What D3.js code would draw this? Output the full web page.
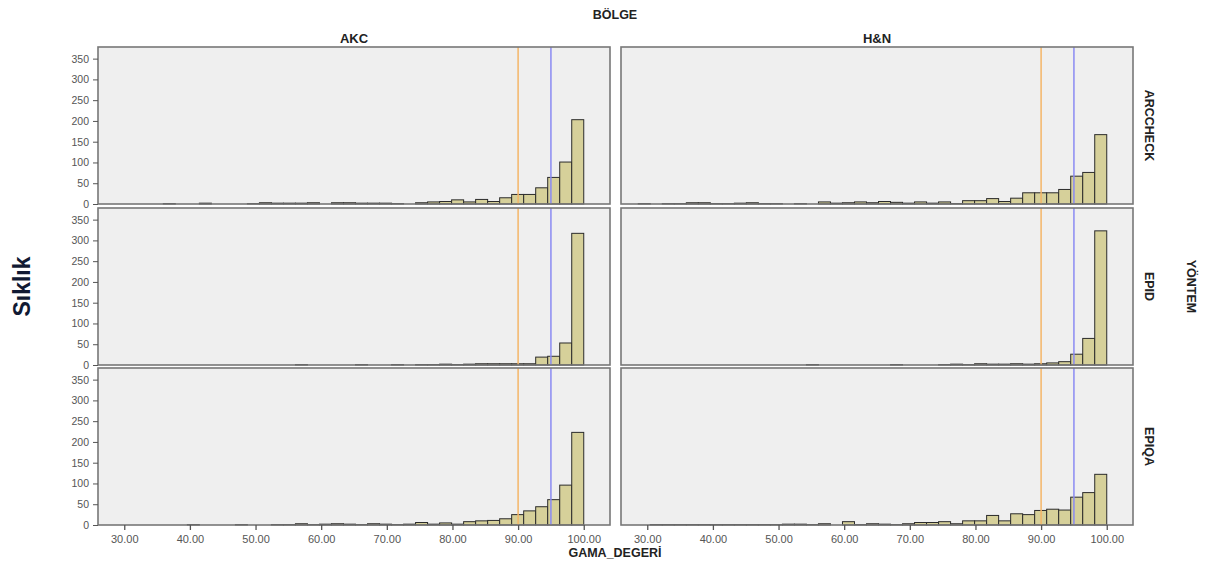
<!DOCTYPE html>
<html>
<head>
<meta charset="utf-8">
<script src="https://cdn.jsdelivr.net/npm/d3@7"></script>
<style>
  html, body { margin: 0; padding: 0; background: #ffffff; }
  svg { display: block; font-family: "Liberation Sans", Arial, sans-serif; }
</style>
</head>
<body>
<svg id="chart" width="1231" height="567"></svg>
<script>
// Facet categories
const regions = ["AKC", "H&N"];
const methods = ["ARCCHECK", "EPID", "EPIQA"];

// Histogram bins of GAMA_DEGERİ: 40 bins of equal width ending at 100
const binStart = 26.8;
const binWidth = 1.83;

// Frequencies per bin, one array per (method, region) cell
const akcArccheck = [0,0,0,0,0,1,0,0,2,0, 0,0,1,3,2,2,2,3,0,3, 3,2,2,2,1,0,3,5,6,10, 5,11,6,15,23,23,39,64,101,203];
const hnArccheck  = [0,1,0,1,1,3,3,1,1,2, 3,1,1,0,1,0,5,2,3,5, 3,6,4,2,5,2,5,1,8,8, 13,6,14,27,27,27,35,67,76,167];
const akcEpid     = [0,0,0,0,0,0,0,0,0,0, 0,0,0,0,0,0,1,0,0,0, 0,1,0,0,1,0,1,1,2,1, 2,3,3,3,3,3,19,21,53,317];
const hnEpid      = [0,0,0,0,0,0,0,0,0,0, 0,0,0,0,0,1,0,0,0,0, 0,0,1,0,0,0,1,2,1,3, 2,2,3,2,3,5,8,26,64,323];
const akcEpiqa    = [0,0,0,0,0,0,0,1,0,0, 0,1,0,0,1,1,3,1,2,3, 2,1,3,2,1,2,6,2,5,2, 8,10,11,15,25,34,44,61,96,223];
const hnEpiqa     = [0,0,1,1,1,1,1,1,1,1, 1,1,1,2,2,1,3,0,8,1, 3,2,1,3,6,6,8,3,10,10, 23,10,27,25,35,38,36,67,78,122];

// Reference lines (gamma pass thresholds)
const refLines = [90, 95];

// Axis ticks
const xTicks = [30, 40, 50, 60, 70, 80, 90, 100];
const yTicks = [0, 50, 100, 150, 200, 250, 300, 350];

const cells = [
  [akcArccheck, hnArccheck],
  [akcEpid, hnEpid],
  [akcEpiqa, hnEpiqa]
];

// Layout
const colX = [98, 621];
const panelW = 512;
const rowY = [47, 208, 368];
const panelH = 157;

const svg = d3.select("#chart");

const x = d3.scaleLinear().domain([26, 104]).range([0, panelW]);
const y = d3.scaleLinear().domain([0, 378]).range([panelH, 0]);

const refColors = ["#f5b668", "#8a8af2"];

methods.forEach((method, r) => {
  regions.forEach((region, c) => {
    const g = svg.append("g").attr("transform", `translate(${colX[c]},${rowY[r]})`);

    g.append("rect")
      .attr("width", panelW).attr("height", panelH)
      .attr("fill", "#efefef");

    const bins = cells[r][c].map((count, i) => ({
      x0: binStart + i * binWidth,
      x1: binStart + (i + 1) * binWidth,
      count
    })).filter(d => d.count > 0);

    g.selectAll("rect.bar").data(bins).join("rect")
      .attr("class", "bar")
      .attr("x", d => x(d.x0))
      .attr("width", d => x(d.x1) - x(d.x0))
      .attr("y", d => y(d.count))
      .attr("height", d => y(0) - y(d.count))
      .attr("fill", "#d6d09a")
      .attr("stroke", "#2b2b2b")
      .attr("stroke-width", 1);

    g.selectAll("line.ref").data(refLines).join("line")
      .attr("class", "ref")
      .attr("x1", d => x(d)).attr("x2", d => x(d))
      .attr("y1", 0).attr("y2", panelH)
      .attr("stroke", (d, i) => refColors[i])
      .attr("stroke-width", 1.5);

    g.append("rect")
      .attr("width", panelW).attr("height", panelH)
      .attr("fill", "none")
      .attr("stroke", "#777777")
      .attr("stroke-width", 1.6);

    if (c === 0) {
      const ay = g.append("g")
        .call(d3.axisLeft(y).tickValues(yTicks).tickSize(5).tickFormat(d3.format("d")));
      ay.select(".domain").remove();
      ay.selectAll("line").attr("stroke", "#555");
      ay.selectAll("text").attr("fill", "#555").attr("font-size", 10.5).attr("dx", "-1");
    }

    if (r === methods.length - 1) {
      const ax = g.append("g")
        .attr("transform", `translate(0,${panelH})`)
        .call(d3.axisBottom(x).tickValues(xTicks).tickSize(5).tickFormat(d3.format(".2f")));
      ax.select(".domain").remove();
      ax.selectAll("line").attr("stroke", "#555").attr("stroke-width", 1.3);
      ax.selectAll("text").attr("fill", "#555").attr("font-size", 11).attr("dy", "0.9em");
    }
  });

  // Row strip label on the right
  const cy = rowY[r] + panelH / 2;
  svg.append("text")
    .attr("transform", `translate(1145,${cy}) rotate(90)`)
    .attr("text-anchor", "middle")
    .attr("font-weight", "bold").attr("font-size", 12.5).attr("fill", "#222")
    .text(method);
});

// Column headers
regions.forEach((region, c) => {
  svg.append("text")
    .attr("x", colX[c] + panelW / 2).attr("y", 43)
    .attr("text-anchor", "middle")
    .attr("font-weight", "bold").attr("font-size", 13).attr("fill", "#222")
    .text(region);
});

// Facet variable titles
svg.append("text")
  .attr("x", 615).attr("y", 19)
  .attr("text-anchor", "middle")
  .attr("font-weight", "bold").attr("font-size", 12.5).attr("fill", "#222")
  .text("BÖLGE");

svg.append("text")
  .attr("transform", `translate(1187,${rowY[1] + panelH / 2}) rotate(90)`)
  .attr("text-anchor", "middle")
  .attr("font-weight", "bold").attr("font-size", 12.5).attr("fill", "#222")
  .text("YÖNTEM");

svg.append("text")
  .attr("x", 615).attr("y", 557)
  .attr("text-anchor", "middle")
  .attr("font-weight", "bold").attr("font-size", 12.5).attr("fill", "#222")
  .text("GAMA_DEGERİ");

svg.append("text")
  .attr("transform", `translate(30,${rowY[1] + panelH / 2}) rotate(-90)`)
  .attr("text-anchor", "middle")
  .attr("font-weight", "bold").attr("font-size", 23).attr("fill", "#111a33")
  .text("Sıklık");
</script>
</body>
</html>
